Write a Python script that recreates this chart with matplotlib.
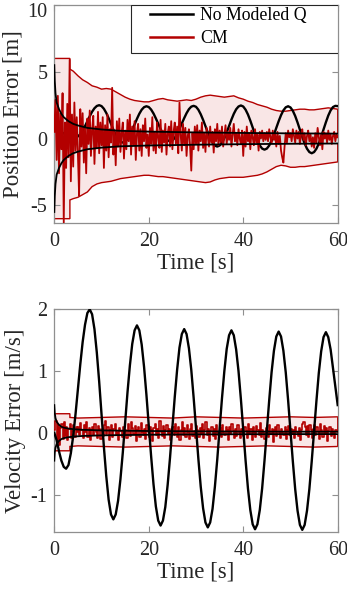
import numpy as np
import matplotlib
matplotlib.use('Agg')
import matplotlib.pyplot as plt
import matplotlib.transforms as mtransforms
from matplotlib.patches import Rectangle

plt.rcParams['font.family'] = ['Liberation Serif', 'DejaVu Serif']
plt.rcParams['axes.unicode_minus'] = False

RED = '#b30000'
PINK = '#f9e6e6'
GREY = '#dcdcdc'
SPINE = '#8f8f8f'
TXT = '#262626'

# time grid for the sampled curves (s)
t_fine = np.arange(0, 60.001, 0.5)
t_noise = np.arange(0, 60.001, 0.25)

# ---------------- position error ----------------
pos_nomq = [0.6, 0.58, 0.54, 0.47, 0.39, 0.3, 0.22, 0.15, 0.11, 0.1,
            0.16, 0.33, 0.59, 0.93, 1.3, 1.67, 2.01, 2.27, 2.44, 2.5,
            2.43, 2.23, 1.92, 1.53, 1.1, 0.67, 0.28, -0.03, -0.23, -0.3,
            -0.23, -0.04, 0.26, 0.64, 1.06, 1.48, 1.86, 2.16, 2.35, 2.42,
            2.36, 2.17, 1.88, 1.51, 1.11, 0.71, 0.34, 0.05, -0.14, -0.2,
            -0.14, 0.05, 0.35, 0.72, 1.13, 1.53, 1.9, 2.2, 2.39, 2.45,
            2.38, 2.16, 1.82, 1.4, 0.93, 0.45, 0.03, -0.31, -0.53, -0.6,
            -0.52, -0.31, 0.03, 0.46, 0.94, 1.42, 1.85, 2.19, 2.4, 2.48,
            2.4, 2.16, 1.8, 1.34, 0.83, 0.31, -0.15, -0.51, -0.75, -0.83,
            -0.75, -0.52, -0.16, 0.29, 0.8, 1.3, 1.75, 2.11, 2.34, 2.42,
            2.33, 2.08, 1.69, 1.2, 0.66, 0.12, -0.37, -0.76, -1.01, -1.1,
            -1.01, -0.76, -0.37, 0.13, 0.68, 1.22, 1.72, 2.11, 2.36, 2.45,
            2.43]

pos_sig_t = [0, 0.1, 0.25, 0.5, 1, 1.5, 2, 3, 4, 5, 7, 10, 14, 20, 30, 40, 50, 60]
pos_sig = [5.5, 4.3, 3.4, 2.7, 2.2, 1.85, 1.6, 1.3, 1.1, 0.98, 0.8, 0.68, 0.58,
           0.52, 0.46, 0.42, 0.39, 0.37]

pos_cm = [0.5, 2.9, -1.6, 3.2, -2.6, 1.9, -0.8, 3.4, -6.3, 1.2, -2.2, 2.6, -1.4, 5.9, -3.2, 1.8, -2.1, 2.7, -0.9, 1.6,
          -1.2, -4.3, 2.2, -0.6, 1.9, -1.8, 0.8, -2.6, 1.5, -0.4, 2.1, -1.3, 0.6, 1.7, -1.9, 0.9, -0.7, 2.0, -1.1, 1.2,
          -0.5, 1.6, -2.2, 1.0, -0.9, 1.8, -1.4, 0.7, -0.3, 3.8, -1.2, 0.5, -2.0, 1.3, -0.6, 1.5, -1.0, 0.4, 1.2, -1.5,
          0.6, -0.8, 1.4, -0.2, 1.8, -1.2, 0.9, -0.5, 1.3, -1.6, 0.4, 1.1, -0.9, 0.7, -1.3, 1.0, -0.2, 1.5, -0.7, 0.3,
          -1.3, 0.8, -0.4, 1.6, -0.9, 0.5, -1.1, 1.2, 0.1, -0.7, 1.4, -1.0, 0.6, -0.3, 1.1, -1.2, 0.4, 0.9, -0.6, 1.3,
          -0.8, 0.5, 1.2, -0.4, 0.9, -1.1, 2.7, 0.3, -0.9, 1.1, -0.5, 0.8, -1.3, 0.2, 0.7, -0.6, -2.4, 0.4, -0.8, 0.9,
          -0.4, 1.0, -0.9, 0.6, -0.2, 1.2, -0.7, 0.4, -1.0, 0.8, 0.1, -0.6, 0.9, -0.3, 0.5, -1.05, 0.7, -0.2, 1.1, -0.5,
          0.6, -0.3, 0.9, -0.6, 0.2, 1.0, -0.4, 0.5, -0.1, 0.8, -0.6, 0.3, 1.1, -0.2, 0.4, -0.5, 0.7, 0.0, -0.4, 0.6,
          -1.3, 0.5, -0.6, 0.9, -0.2, 0.4, -0.8, 0.6, 0.1, -0.5, 0.7, -0.3, 0.3, -0.9, 0.5, 0.0, 0.6, -0.2, 0.4, -0.1,
          0.5, -0.2, 0.7, 0.1, -0.3, 0.6, -0.1, 0.3, -0.6, 0.5, -0.4, 0.2, -0.9, -1.4, -1.8, -0.6, 0.4, -0.3, 0.6, 0.1,
          0.4, -0.2, 0.7, 0.2, -0.3, 0.6, 0.0, 0.5, -0.4, 0.3, 0.7, -0.1, 0.4, -0.5, 0.2, 0.6, -0.2, 0.3, -0.6, 0.1,
          -0.7, 0.4, -0.3, 0.8, 0.1, -0.5, 0.3, -0.8, 0.5, 0.0, 0.4, -0.3, 0.6, -0.1, 0.3, -0.4, 0.2, 0.5, -0.2, 0.3,
          0.1]

cm_bnd_t = np.r_[0, 3.3, 3.3, np.arange(4, 61)]
pos_cm_up = [6, 6, 5.2, 5.05, 4.7, 4.4, 4.2, 3.95, 3.85, 3.7, 3.75, 3.7, 3.5, 3.3, 3.1, 2.95, 2.85, 2.8, 2.75, 2.75,
             2.85, 2.95, 3.0, 2.9, 2.85, 2.8, 2.85, 2.9, 2.85, 2.95, 3.1, 3.2, 3.25, 3.2, 3.15, 3.1, 3.15, 3.2, 3.05,
             2.95, 2.8, 2.7, 2.55, 2.45, 2.35, 2.2, 2.1, 2.05, 2.05, 2.1, 2.15, 2.2, 2.2, 2.15, 2.15, 2.2, 2.25, 2.3,
             2.25, 2.2]
pos_cm_lo = [-6, -6, -4.6, -4.5, -4.4, -4.2, -4.0, -3.6, -3.4, -3.3, -3.25, -3.2, -3.1, -3.0, -2.95, -2.9, -2.85,
             -2.8, -2.75, -2.75, -2.8, -2.85, -2.85, -2.9, -2.95, -3.0, -3.05, -3.1, -3.15, -3.2, -3.25, -3.3, -3.25,
             -3.1, -3.0, -2.95, -2.9, -2.9, -2.9, -2.9, -2.85, -2.8, -2.75, -2.65, -2.5, -2.3, -2.1, -2.0, -2.05,
             -2.15, -2.15, -2.1, -2.1, -2.05, -2.0, -1.95, -1.9, -1.85, -1.8, -1.75]

# ---------------- velocity error ----------------
vel_nomq = [0.0, -0.12, -0.3, -0.45, -0.55, -0.58,
            -0.52, -0.33, -0.05, 0.31, 0.71, 1.11, 1.47, 1.75, 1.94, 2.0,
            1.92, 1.68, 1.3, 0.83, 0.3, -0.23, -0.7, -1.08, -1.32, -1.4,
            -1.32, -1.1, -0.75, -0.32, 0.17, 0.66, 1.09, 1.44, 1.66, 1.74,
            1.66, 1.43, 1.07, 0.62, 0.12, -0.38, -0.83, -1.19, -1.42, -1.5,
            -1.42, -1.2, -0.84, -0.4, 0.09, 0.58, 1.02, 1.38, 1.6, 1.68,
            1.6, 1.37, 1.02, 0.57, 0.08, -0.42, -0.87, -1.22, -1.45, -1.53,
            -1.45, -1.23, -0.87, -0.43, 0.07, 0.56, 1.0, 1.36, 1.58, 1.66,
            1.58, 1.35, 1.0, 0.55, 0.05, -0.45, -0.9, -1.25, -1.48, -1.56,
            -1.48, -1.25, -0.9, -0.45, 0.04, 0.53, 0.98, 1.33, 1.56, 1.64,
            1.56, 1.33, 0.98, 0.53, 0.03, -0.46, -0.91, -1.26, -1.49, -1.57,
            -1.49, -1.26, -0.91, -0.46, 0.03, 0.52, 0.97, 1.32, 1.55, 1.63,
            1.55, 1.35, 1.05, 0.75, 0.45]

vel_sig_t = [0, 0.1, 0.25, 0.5, 1, 1.5, 2, 3, 4, 6, 10, 20, 30, 40, 50, 60]
vel_sig = [0.45, 0.32, 0.24, 0.18, 0.13, 0.1, 0.085, 0.07, 0.06, 0.05, 0.04, 0.03,
           0.025, 0.022, 0.02, 0.02]

vel_cm = [0.05, 0.2, -0.15, 0.12, -0.2, 0.08, 0.15, -0.1, 0.18, -0.05, 0.1, -0.12, 0.06, 0.14, -0.08, 0.03, 0.12, -0.06, 0.09, 0.02,
          0.1, -0.04, 0.16, 0.05, -0.09, 0.12, 0.02, 0.18, -0.06, 0.08, -0.12, 0.04, 0.1, -0.03, 0.15, 0.01, -0.08, 0.11, 0.06, -0.1,
          0.07, -0.05, 0.13, 0.2, -0.02, 0.09, -0.11, 0.04, 0.12, -0.07, 0.06, 0.15, -0.04, 0.02, -0.12, 0.08, 0.03, -0.06, 0.1, -0.02,
          0.05, -0.09, 0.14, 0.03, -0.05, 0.18, 0.08, -0.02, 0.11, -0.13, 0.04, 0.09, -0.07, 0.16, 0.01, -0.04, 0.07, -0.1, 0.12, 0.02,
          -0.06, 0.1, 0.04, -0.13, 0.08, 0.15, -0.03, 0.06, -0.09, 0.19, 0.02, -0.05, 0.11, -0.08, 0.05, 0.13, -0.02, 0.07, -0.11, 0.03,
          0.09, -0.04, 0.14, 0.01, -0.07, 0.1, -0.12, 0.05, 0.17, -0.03, 0.08, -0.06, 0.12, 0.02, -0.1, 0.06, 0.15, -0.05, 0.03, -0.08,
          0.11, 0.04, -0.06, 0.08, -0.02, 0.14, -0.09, 0.05, 0.18, -0.04, 0.07, -0.13, 0.03, 0.1, -0.05, 0.06, -0.1, 0.12, 0.01, -0.03,
          0.08, -0.07, 0.13, 0.02, -0.04, 0.1, 0.05, -0.11, 0.09, -0.02, 0.15, 0.03, -0.08, 0.06, -0.05, 0.12, 0.0, -0.09, 0.07, 0.02,
          -0.05, 0.1, 0.03, -0.08, 0.14, -0.02, 0.06, -0.12, 0.09, 0.01, -0.06, 0.11, 0.04, -0.03, 0.16, -0.07, 0.05, 0.02, -0.1, 0.08,
          0.03, -0.06, 0.12, -0.02, 0.07, -0.15, 0.04, 0.1, -0.05, 0.13, 0.0, -0.08, 0.06, 0.02, -0.04, 0.09, -0.1, 0.05, 0.11, -0.03,
          0.07, -0.02, 0.04, -0.09, 0.1, 0.01, -0.05, 0.08, -0.12, 0.05, 0.14, 0.17, 0.09, -0.03, 0.11, -0.06, 0.13, 0.04, -0.08, 0.06,
          0.12, -0.04, 0.09, 0.02, -0.1, 0.15, 0.05, -0.07, 0.11, -0.02, 0.08, -0.13, 0.03, 0.1, -0.05, 0.07, 0.0, -0.09, 0.05, 0.02,
          0.03]

vel_bnd_t = [0, 3.3, 3.3, 5, 10, 15, 20, 25, 30, 35, 40, 45, 50, 55, 60]
vel_cm_up = [0.31, 0.31, 0.25, 0.24, 0.25, 0.26, 0.25, 0.24, 0.26, 0.25, 0.24, 0.25, 0.26, 0.25, 0.26]
vel_cm_lo = [-0.29, -0.29, -0.22, -0.21, -0.22, -0.23, -0.22, -0.21, -0.22, -0.23, -0.22, -0.21, -0.22, -0.23, -0.22]


def band(ax, t, lo, hi, face, edge, lw):
    t = np.asarray(t, float)
    ax.fill(np.r_[t, t[::-1]], np.r_[hi, np.asarray(lo)[::-1]],
            facecolor=face, edgecolor=edge, lw=lw, zorder=1)


def style(ax, ylabel):
    ax.set_xlim(0, 60)
    ax.set_xticks([0, 20, 40, 60])
    ax.set_xlabel('Time [s]', fontsize=16.5, color=TXT, labelpad=1)
    ax.set_ylabel(ylabel, fontsize=16.5, color=TXT, labelpad=3)
    ax.tick_params(direction='in', top=True, right=True, length=4.5, width=0.8,
                   color=SPINE, labelsize=14.5, labelcolor=TXT)
    ax.tick_params(axis='x', pad=7)
    ax.tick_params(axis='y', pad=5)
    for s in ax.spines.values():
        s.set_color(SPINE)
        s.set_linewidth(0.9)


fig = plt.figure(figsize=(3.47, 5.91), dpi=100)

# position error
ax1 = fig.add_axes([0.1565, 0.6232, 0.8167, 0.3683])
band(ax1, cm_bnd_t, pos_cm_lo, pos_cm_up, PINK, RED, 1.0)
sig = np.asarray(pos_sig)
ax1.fill_between(pos_sig_t, -sig, sig, color=GREY, lw=0, zorder=2)
ax1.plot(t_fine, pos_nomq, color='black', lw=1.7, zorder=3, label='No Modeled Q')
ax1.plot(t_noise, pos_cm, color=RED, lw=1.3, zorder=4, label='CM')
ax1.plot(pos_sig_t, sig, color='black', lw=1.3, zorder=5)
ax1.plot(pos_sig_t, -sig, color='black', lw=1.3, zorder=5)
ax1.set_ylim(-6.3, 10)
ax1.set_yticks([-5, 0, 5, 10])
style(ax1, 'Position Error [m]')
# keep the top "10" label inside the figure, as in the original
top_lbl = ax1.get_yticklabels()[-1]
top_lbl.set_transform(top_lbl.get_transform() +
                      mtransforms.ScaledTranslation(0, -5 / 100, fig.dpi_scale_trans))
ax1.add_patch(Rectangle((0.2706, 0.781), 0.7294, 0.219, transform=ax1.transAxes,
                        facecolor='white', edgecolor=TXT, lw=0.8, zorder=9))
leg = ax1.legend(loc='upper left', bbox_to_anchor=(0.3377, 0.99), fontsize=12.8,
                 frameon=False, borderaxespad=0, borderpad=0, handlelength=2.42,
                 handletextpad=0.39, labelspacing=0.35)
leg.set_zorder(10)
for line in leg.get_lines():
    line.set_linewidth(1.8)

# velocity error
ax2 = fig.add_axes([0.1565, 0.1003, 0.8167, 0.3763])
band(ax2, vel_bnd_t, vel_cm_lo, vel_cm_up, PINK, RED, 1.0)
vs = np.asarray(vel_sig)
ax2.fill_between(vel_sig_t, -vs, vs, color=GREY, lw=0, zorder=2)
ax2.plot(t_noise, vel_cm, color=RED, lw=1.2, drawstyle='steps-post', zorder=3)
ax2.plot(vel_sig_t, vs, color='black', lw=1.3, zorder=4)
ax2.plot(vel_sig_t, -vs, color='black', lw=1.3, zorder=4)
ax2.plot(t_fine, vel_nomq, color='black', lw=1.7, zorder=5)
ax2.set_ylim(-1.6, 2)
ax2.set_yticks([-1, 0, 1, 2])
style(ax2, 'Velocity Error [m/s]')

fig.savefig('out.png', dpi=100)
